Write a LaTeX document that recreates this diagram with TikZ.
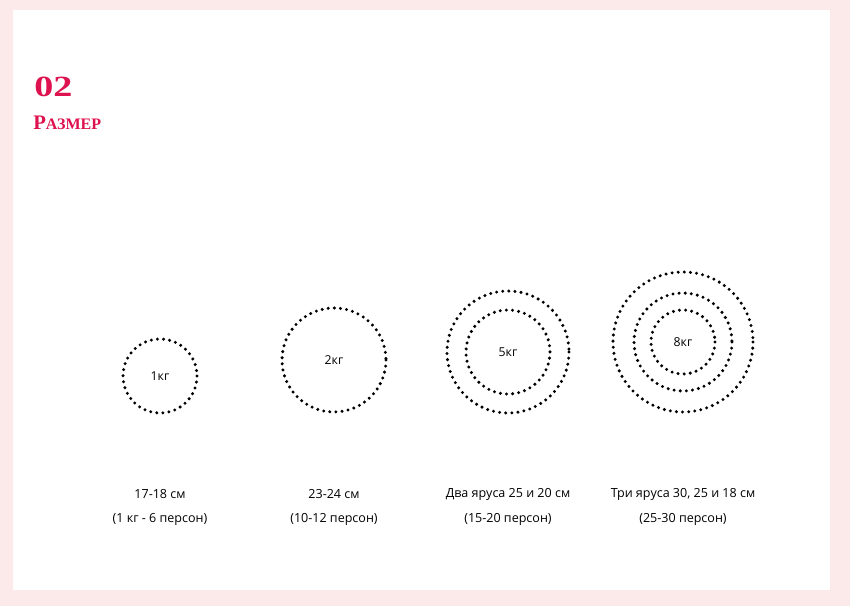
\documentclass[tikz,border=0pt]{standalone}
\usepackage{fontspec}
\setmainfont{Open Sans}
\newfontfamily\titelfont{Liberation Serif}
\usepackage{xcolor}
\usepackage{tikz}
\definecolor{RosaFondo}{RGB}{252,234,234}
\definecolor{CarmesiTitulo}{RGB}{222,18,78}

\begin{document}
\begin{tikzpicture}[x=0.75pt,y=-0.75pt,
  punkte/.style={line width=2.5pt,line cap=round,dash pattern=on 0pt off 4.6pt},
  kg/.style={font=\fontsize{9.2}{11}\selectfont,inner sep=0pt},
  beschr/.style={font=\fontsize{9.4}{11}\selectfont,inner sep=0pt}]
  \fill[RosaFondo] (0,0) rectangle (850,606);
  \fill[white] (13,10) rectangle (830,590);
  \node[CarmesiTitulo,anchor=base west,inner sep=0pt,xscale=1.3,font=\titelfont\bfseries\fontsize{22}{26}\selectfont] (num) at (34,97) {02};
  \node[CarmesiTitulo,anchor=base west,inner sep=0pt,font=\titelfont\bfseries] (titel) at (33,130)
    {{\fontsize{15.5}{18}\selectfont Р}{\fontsize{12}{14}\selectfont АЗМЕР}};
  % torten
  \node[kg] (k1) at (160,376) {1кг};
  \draw[punkte] (k1.center) circle[radius=37];
  \node[kg] (k2) at (334,360) {2кг};
  \draw[punkte] (k2.center) circle[radius=52];
  \node[kg] (k5) at (508,352) {5кг};
  \draw[punkte] (k5.center) circle[radius=42];
  \draw[punkte] (k5.center) circle[radius=61];
  \node[kg] (k8) at (683,342) {8кг};
  \draw[punkte] (k8.center) circle[radius=32];
  \draw[punkte] (k8.center) circle[radius=49];
  \draw[punkte] (k8.center) circle[radius=70];
  % texte
  \node[beschr] (g1) at (160,494) {17-18 см};
  \node[beschr] (p1) at (160,519) {(1 кг - 6 персон)};
  \node[beschr] (g2) at (334,494) {23-24 см};
  \node[beschr] (p2) at (334,519) {(10-12 персон)};
  \node[beschr] (g5) at (508,494) {Два яруса 25 и 20 см};
  \node[beschr] (p5) at (508,519) {(15-20 персон)};
  \node[beschr] (g8) at (683,494) {Три яруса 30, 25 и 18 см};
  \node[beschr] (p8) at (683,519) {(25-30 персон)};
\end{tikzpicture}
\end{document}
